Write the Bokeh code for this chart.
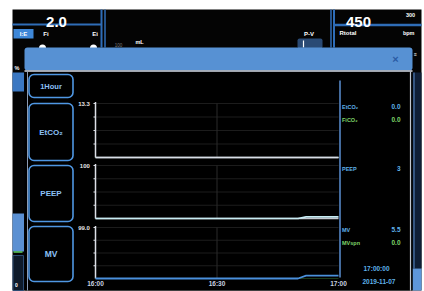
from bokeh.plotting import figure
from bokeh.models import Range1d
from bokeh.core.properties import value
from bokeh.embed import file_html
from bokeh.resources import INLINE

# ---------------- data ----------------
minutes = [0, 30, 50, 52, 60]          # minutes after 16:00
etco2 = [0.0, 0.0, 0.0, 0.0, 0.0]
fico2 = [0.0, 0.0, 0.0, 0.0, 0.0]
peep = [0, 0, 0, 3, 3]
mv = [0.0, 0.0, 0.0, 5.5, 5.5]
mvspn = [0.0, 0.0, 0.0, 0.0, 0.0]

time_ticks = [0, 30, 60]
time_labels = ["16:00", "16:30", "17:00"]

panel_names = ["EtCO₂", "PEEP", "MV"]
panel_max = [13.3, 100, 99.0]
panel_max_labels = ["13.3", "100", "99.0"]

readout_names = ["EtCO₂", "FiCO₂", "PEEP", "MV", "MVspn"]
readout_values = ["0.0", "0.0", "3", "5.5", "0.0"]

# ---------------- style ----------------
FONT = value("Liberation Sans")
BLUE_LINE = "#2f6db7"
BTN = "#4f97e3"
BTN_TXT = "#8cc0f5"
LBL_BLUE = "#5fb2ea"
LBL_GREEN = "#7fd66a"
AX = "#dcdfe6"

W, H = 424, 291
p = figure(width=W, height=H, x_range=Range1d(0, W), y_range=Range1d(H, 0),
           output_backend="svg", toolbar_location=None, min_border=0,
           x_axis_location=None, y_axis_location=None,
           background_fill_color="white", border_fill_color="white",
           outline_line_color=None)
p.grid.visible = False


def T(x, y, s, color, size, align="left", base="middle", bold=False, target=None):
    g = target if target is not None else p
    g.text(x=[x], y=[y], text=[s], text_color=color, text_font=FONT,
           text_font_size=f"{size}px", text_align=align, text_baseline=base,
           text_font_style="bold" if bold else "normal")


# screen background
p.quad(left=12, right=421, top=9, bottom=290, fill_color="#040404", line_color=None)

# ---- background monitor panels (top) ----
p.line([12, 101], [24, 24], line_color=BLUE_LINE, line_width=2)
p.line([101, 101], [9, 47], line_color=BLUE_LINE, line_width=2)
p.line([104.5, 104.5], [9, 47], line_color=BLUE_LINE, line_width=1.5)
p.line([330.5, 330.5], [9, 47], line_color=BLUE_LINE, line_width=1.5)
p.line([333.5, 333.5], [9, 47], line_color=BLUE_LINE, line_width=2)
p.line([333, 421], [24.5, 24.5], line_color=BLUE_LINE, line_width=2.5)

T(56, 21.5, "2.0", "white", 15, align="center", base="alphabetic", bold=True)
T(358, 21.5, "450", "white", 15, align="center", base="alphabetic", bold=True)

p.quad(left=13, right=33, top=28.5, bottom=38, fill_color="#3e87d8", line_color=None)
T(23, 33.5, "I:E", "white", 6, align="center", bold=True)
T(45.5, 33.5, "Fi", "white", 6, align="center", bold=True)
T(94.5, 33.5, "Ei", "white", 6, align="center", bold=True)
p.scatter(x=[42, 93], y=[47.5, 47.5], size=7, fill_color="white", line_color=None)
T(16.5, 67.5, "%", "white", 5.5, align="center", bold=True)

T(139, 41, "mL", "white", 5.5, align="center", bold=True)
T(118, 44.5, "100", "#7a7a7a", 4.5, align="center")
T(308.5, 33, "P-V", "white", 6, align="center", bold=True)
p.quad(left=297, right=322, top=38, bottom=48, fill_color="#2a4a74", line_color=None, border_radius=2)
p.line([303, 303], [40, 47], line_color="white", line_width=1.2)

T(410, 14.5, "300", "white", 5.5, align="center", bold=True)
T(339, 32.5, "Rtotal", "white", 6, bold=True)
T(414, 32.5, "bpm", "white", 5.5, align="right", bold=True)

# side strips outside popup
p.quad(left=12, right=23.5, top=72, bottom=91, fill_color="#3b78c2", line_color=None)
p.quad(left=12, right=23.5, top=213, bottom=251, fill_color="#5b90d2", line_color=None)
p.line([13, 22], [251.5, 251.5], line_color="#5fd05a", line_width=1.5)
p.quad(left=12.5, right=23, top=255, bottom=290, fill_color="#0e1a2a", line_color="#2c4c74", line_width=1)
T(16, 284, "0", "white", 5, align="center", bold=True)
p.quad(left=412, right=421, top=72, bottom=268, fill_color="#0f1e36", line_color=None)
p.line([413.5, 413.5], [72, 268], line_color="#5a8ccc", line_width=1)
p.quad(left=412, right=421, top=268, bottom=290, fill_color="#5e96da", line_color=None)
T(415, 53, "≡", "white", 5, align="center")

# ---- popup ----
p.quad(left=24, right=412, top=47, bottom=70, fill_color="#5791d3", line_color=None, border_radius=3)
T(395, 58, "×", "#2a5ba4", 11, align="center", bold=True)
p.quad(left=24, right=412, top=70, bottom=290, fill_color="#000000", line_color=None)
p.line([24, 412], [70.5, 70.5], line_color="#d6dde8", line_width=1.5)
p.line([27, 27], [71, 290], line_color="#8c9cb5", line_width=1)
p.line([410, 410], [71, 290], line_color="#c0c6d0", line_width=1.2)

# buttons
btn_labels = ["1Hour"] + panel_names
btn_boxes = [(74, 97), (103, 160), (165, 221), (226, 281)]
btn_sizes = [7.5, 8, 8, 8.5]
for lab, (tp, bt), fs in zip(btn_labels, btn_boxes, btn_sizes):
    p.quad(left=28.5, right=72.5, top=tp, bottom=bt, fill_color="black",
           line_color=BTN, line_width=1.6, border_radius=5)
    T(50.5, (tp + bt) / 2, lab, BTN_TXT, fs, align="center", bold=True)

# ---- trend panels (sub-coordinate systems) ----
X0, X1 = 95, 338
panel_px = [(157, 103), (218, 165), (278, 227)]
baseline = [True, True, False]
series = [
    [(fico2, "#5fd05a", 1.0, 0.6), (etco2, "#d8dde6", 1.6, 1.0)],
    [(peep, "#c8ecf4", 1.6, 1.0)],
    [(mvspn, "#5fd05a", 0.8, 0.35), (mv, "#4a90dc", 1.8, 1.0)],
]
for ymax, lab, (bot, top), ser, bl in zip(panel_max, panel_max_labels, panel_px, series, baseline):
    sub = p.subplot(x_source=Range1d(0, 60), y_source=Range1d(0, ymax),
                    x_target=Range1d(X0, X1), y_target=Range1d(bot, top))
    fr = [ymax * k / 4 for k in (1, 2, 3, 4)]
    # faint grid
    sub.segment(x0=[0] * 4, x1=[60] * 4, y0=fr, y1=fr, line_color="#1c1c1c", line_width=1)
    sub.segment(x0=[time_ticks[1]], x1=[time_ticks[1]], y0=[0], y1=[ymax],
                line_color="#2a2a2a", line_width=1)
    # axis
    sub.segment(x0=[0], x1=[0], y0=[0], y1=[ymax * 1.03], line_color=AX, line_width=1.5)
    sub.segment(x0=[-0.5] * 4, x1=[0] * 4, y0=fr, y1=fr, line_color=AX, line_width=1)
    if bl:
        sub.segment(x0=[0], x1=[60], y0=[0], y1=[0], line_color="#c4c9d2", line_width=1.3)
    T(-1.4, ymax, lab, "#e6e6e6", 6, align="right", bold=True, target=sub)
    for ys, col, w, a in ser:
        sub.line(minutes, ys, line_color=col, line_width=w, line_alpha=a)

# time axis labels
tsub = p.subplot(x_source=Range1d(0, 60), y_source=Range1d(0, 1),
                 x_target=Range1d(X0, X1), y_target=Range1d(0, 1))
tsub.text(x=time_ticks, y=[283] * 3, text=time_labels, text_color="#c9d2e2",
          text_font=FONT, text_font_size="6.5px", text_align="center",
          text_baseline="middle", text_font_style="bold")

# right readout column
p.line([339.5, 339.5], [80, 277], line_color="#5b8fd2", line_width=1.5)
ro_y = [106, 119, 168, 229, 242]
ro_col = [LBL_BLUE, LBL_GREEN, LBL_BLUE, LBL_BLUE, LBL_GREEN]
for nm, vl, yy, cc in zip(readout_names, readout_values, ro_y, ro_col):
    T(341.5, yy, nm, cc, 5.5, bold=True)
    T(400, yy, vl, cc, 6.5, align="right", bold=True)
T(363, 268, "17:00:00", LBL_BLUE, 6.5, bold=True)
T(362, 281, "2019-11-07", LBL_BLUE, 6.5, bold=True)

open("out.html", "w").write(file_html(p, INLINE))
